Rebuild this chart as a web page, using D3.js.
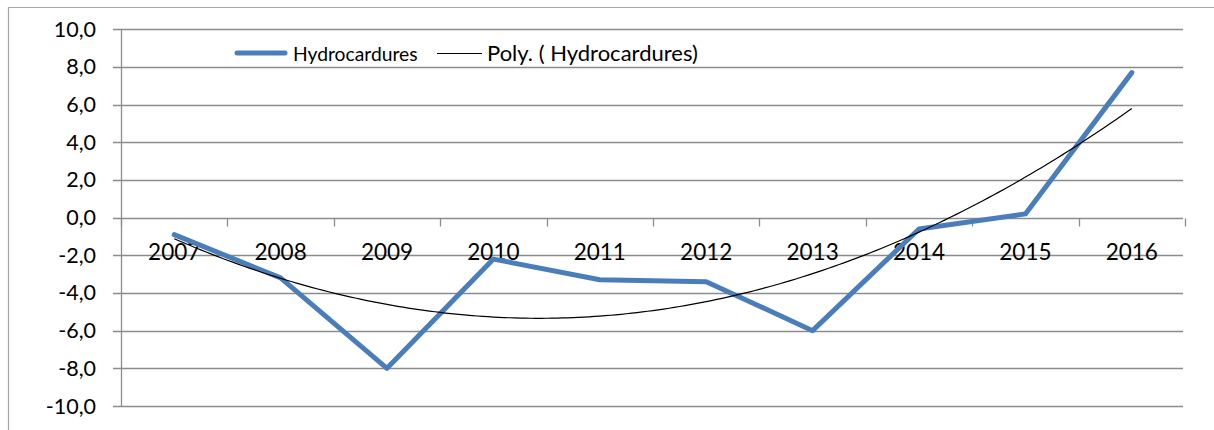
<!DOCTYPE html>
<html>
<head>
<meta charset="utf-8">
<script src="https://cdn.jsdelivr.net/npm/d3@7"></script>
<style>
  body { margin: 0; background: #fff; }
  text { font-family: Lato, "Open Sans", sans-serif; fill: #000; }
</style>
</head>
<body>
<div class="canvas"></div>
<script>
var years = ["2007", "2008", "2009", "2010", "2011", "2012", "2013", "2014", "2015", "2016"];
var values = [-0.9, -3.2, -8.0, -2.2, -3.3, -3.4, -6.0, -0.6, 0.2, 7.7];
var yTicks = [-10, -8, -6, -4, -2, 0, 2, 4, 6, 8, 10];
var seriesName = "Hydrocardures";
var trendName = "Poly. ( Hydrocardures)";

var W = 1214, H = 430;
var svg = d3.select(".canvas").append("svg").attr("width", W).attr("height", H);

// outer chart border (only top and left visible in the crop)
svg.append("path").attr("d", "M8.5,430 V7.5 H1214")
  .attr("fill", "none").attr("stroke", "#a6a6a6").attr("stroke-width", 1.2);

var plotLeft = 121, plotRight = 1185, plotTop = 29.3, plotBottom = 406;
var scaleX = d3.scaleBand().domain(years).range([plotLeft, plotRight]);
var scaleY = d3.scaleLinear().domain([-10, 10]).range([plotBottom, plotTop]);

// gridlines
svg.append("g").selectAll("line").data(yTicks).enter().append("line")
  .attr("x1", plotLeft - 8).attr("x2", 1183)
  .attr("y1", function(d) { return Math.round(scaleY(d)) + 0.5; })
  .attr("y2", function(d) { return Math.round(scaleY(d)) + 0.5; })
  .attr("stroke", "#8c8c8c").attr("stroke-width", 1.3);

// y axis line
svg.append("line").attr("x1", plotLeft + 0.5).attr("x2", plotLeft + 0.5)
  .attr("y1", scaleY(10)).attr("y2", scaleY(-10))
  .attr("stroke", "#8c8c8c").attr("stroke-width", 1.3);

var fmt = function(d) { return d3.format(".1f")(d).replace(".", ",").replace("−", "-"); };
svg.append("g").selectAll("text").data(yTicks).enter().append("text")
  .attr("x", 96).attr("y", function(d) { return scaleY(d) + 7.5; })
  .attr("text-anchor", "end").attr("font-size", 21.5)
  .text(fmt);

// x axis at zero with ticks between categories
var y0 = Math.round(scaleY(0)) + 0.5;
var tickPos = years.map(function(d) { return scaleX(d); }).concat([plotRight]);
svg.append("g").selectAll("line").data(tickPos).enter().append("line")
  .attr("x1", function(d) { return Math.round(d) + 0.5; })
  .attr("x2", function(d) { return Math.round(d) + 0.5; })
  .attr("y1", y0).attr("y2", y0 + 8)
  .attr("stroke", "#8c8c8c").attr("stroke-width", 1.3);

svg.append("g").selectAll("text").data(years).enter().append("text")
  .attr("x", function(d) { return scaleX(d) + scaleX.bandwidth() / 2; })
  .attr("y", 260).attr("text-anchor", "middle").attr("font-size", 22.5)
  .text(function(d) { return d; });

// data line
var pts = years.map(function(d, i) { return [scaleX(d) + scaleX.bandwidth() / 2, scaleY(values[i])]; });
svg.append("path").attr("d", d3.line()(pts))
  .attr("fill", "none").attr("stroke", "#4a7ebb").attr("stroke-width", 5)
  .attr("stroke-linejoin", "round").attr("stroke-linecap", "round");

// order-2 polynomial trendline (least squares on the series, like the spreadsheet)
var n = values.length, xs = d3.range(1, n + 1);
var mx = d3.mean(xs);
var t = xs.map(function(x) { return x - mx; });
var St2 = d3.sum(t, function(d) { return d * d; });
var St4 = d3.sum(t, function(d) { return d * d * d * d; });
var Sy = d3.sum(values);
var Sty = d3.sum(t, function(d, i) { return d * values[i]; });
var St2y = d3.sum(t, function(d, i) { return d * d * values[i]; });
var b = Sty / St2;
var c = (St2y - St2 * Sy / n) / (St4 - St2 * St2 / n);
var a = (Sy - c * St2) / n;
var xTrend = d3.scaleLinear().domain([1, n])
  .range([scaleX(years[0]) + scaleX.bandwidth() / 2, scaleX(years[n - 1]) + scaleX.bandwidth() / 2]);
var trendPts = d3.range(1, n + 0.001, 0.05).map(function(x) {
  var u = x - mx;
  return [xTrend(x), scaleY(a + b * u + c * u * u)];
});
svg.append("path").attr("d", d3.line()(trendPts))
  .attr("fill", "none").attr("stroke", "#000").attr("stroke-width", 1.2);

// legend
svg.append("line").attr("x1", 237).attr("x2", 285).attr("y1", 53).attr("y2", 53)
  .attr("stroke", "#4a7ebb").attr("stroke-width", 5).attr("stroke-linecap", "round");
svg.append("text").attr("x", 293).attr("y", 60.5).attr("font-size", 19.3).text(seriesName);
svg.append("line").attr("x1", 437).attr("x2", 482).attr("y1", 53.5).attr("y2", 53.5)
  .attr("stroke", "#000").attr("stroke-width", 1.2);
svg.append("text").attr("x", 487).attr("y", 61).attr("font-size", 22).text(trendName);
</script>
</body>
</html>
